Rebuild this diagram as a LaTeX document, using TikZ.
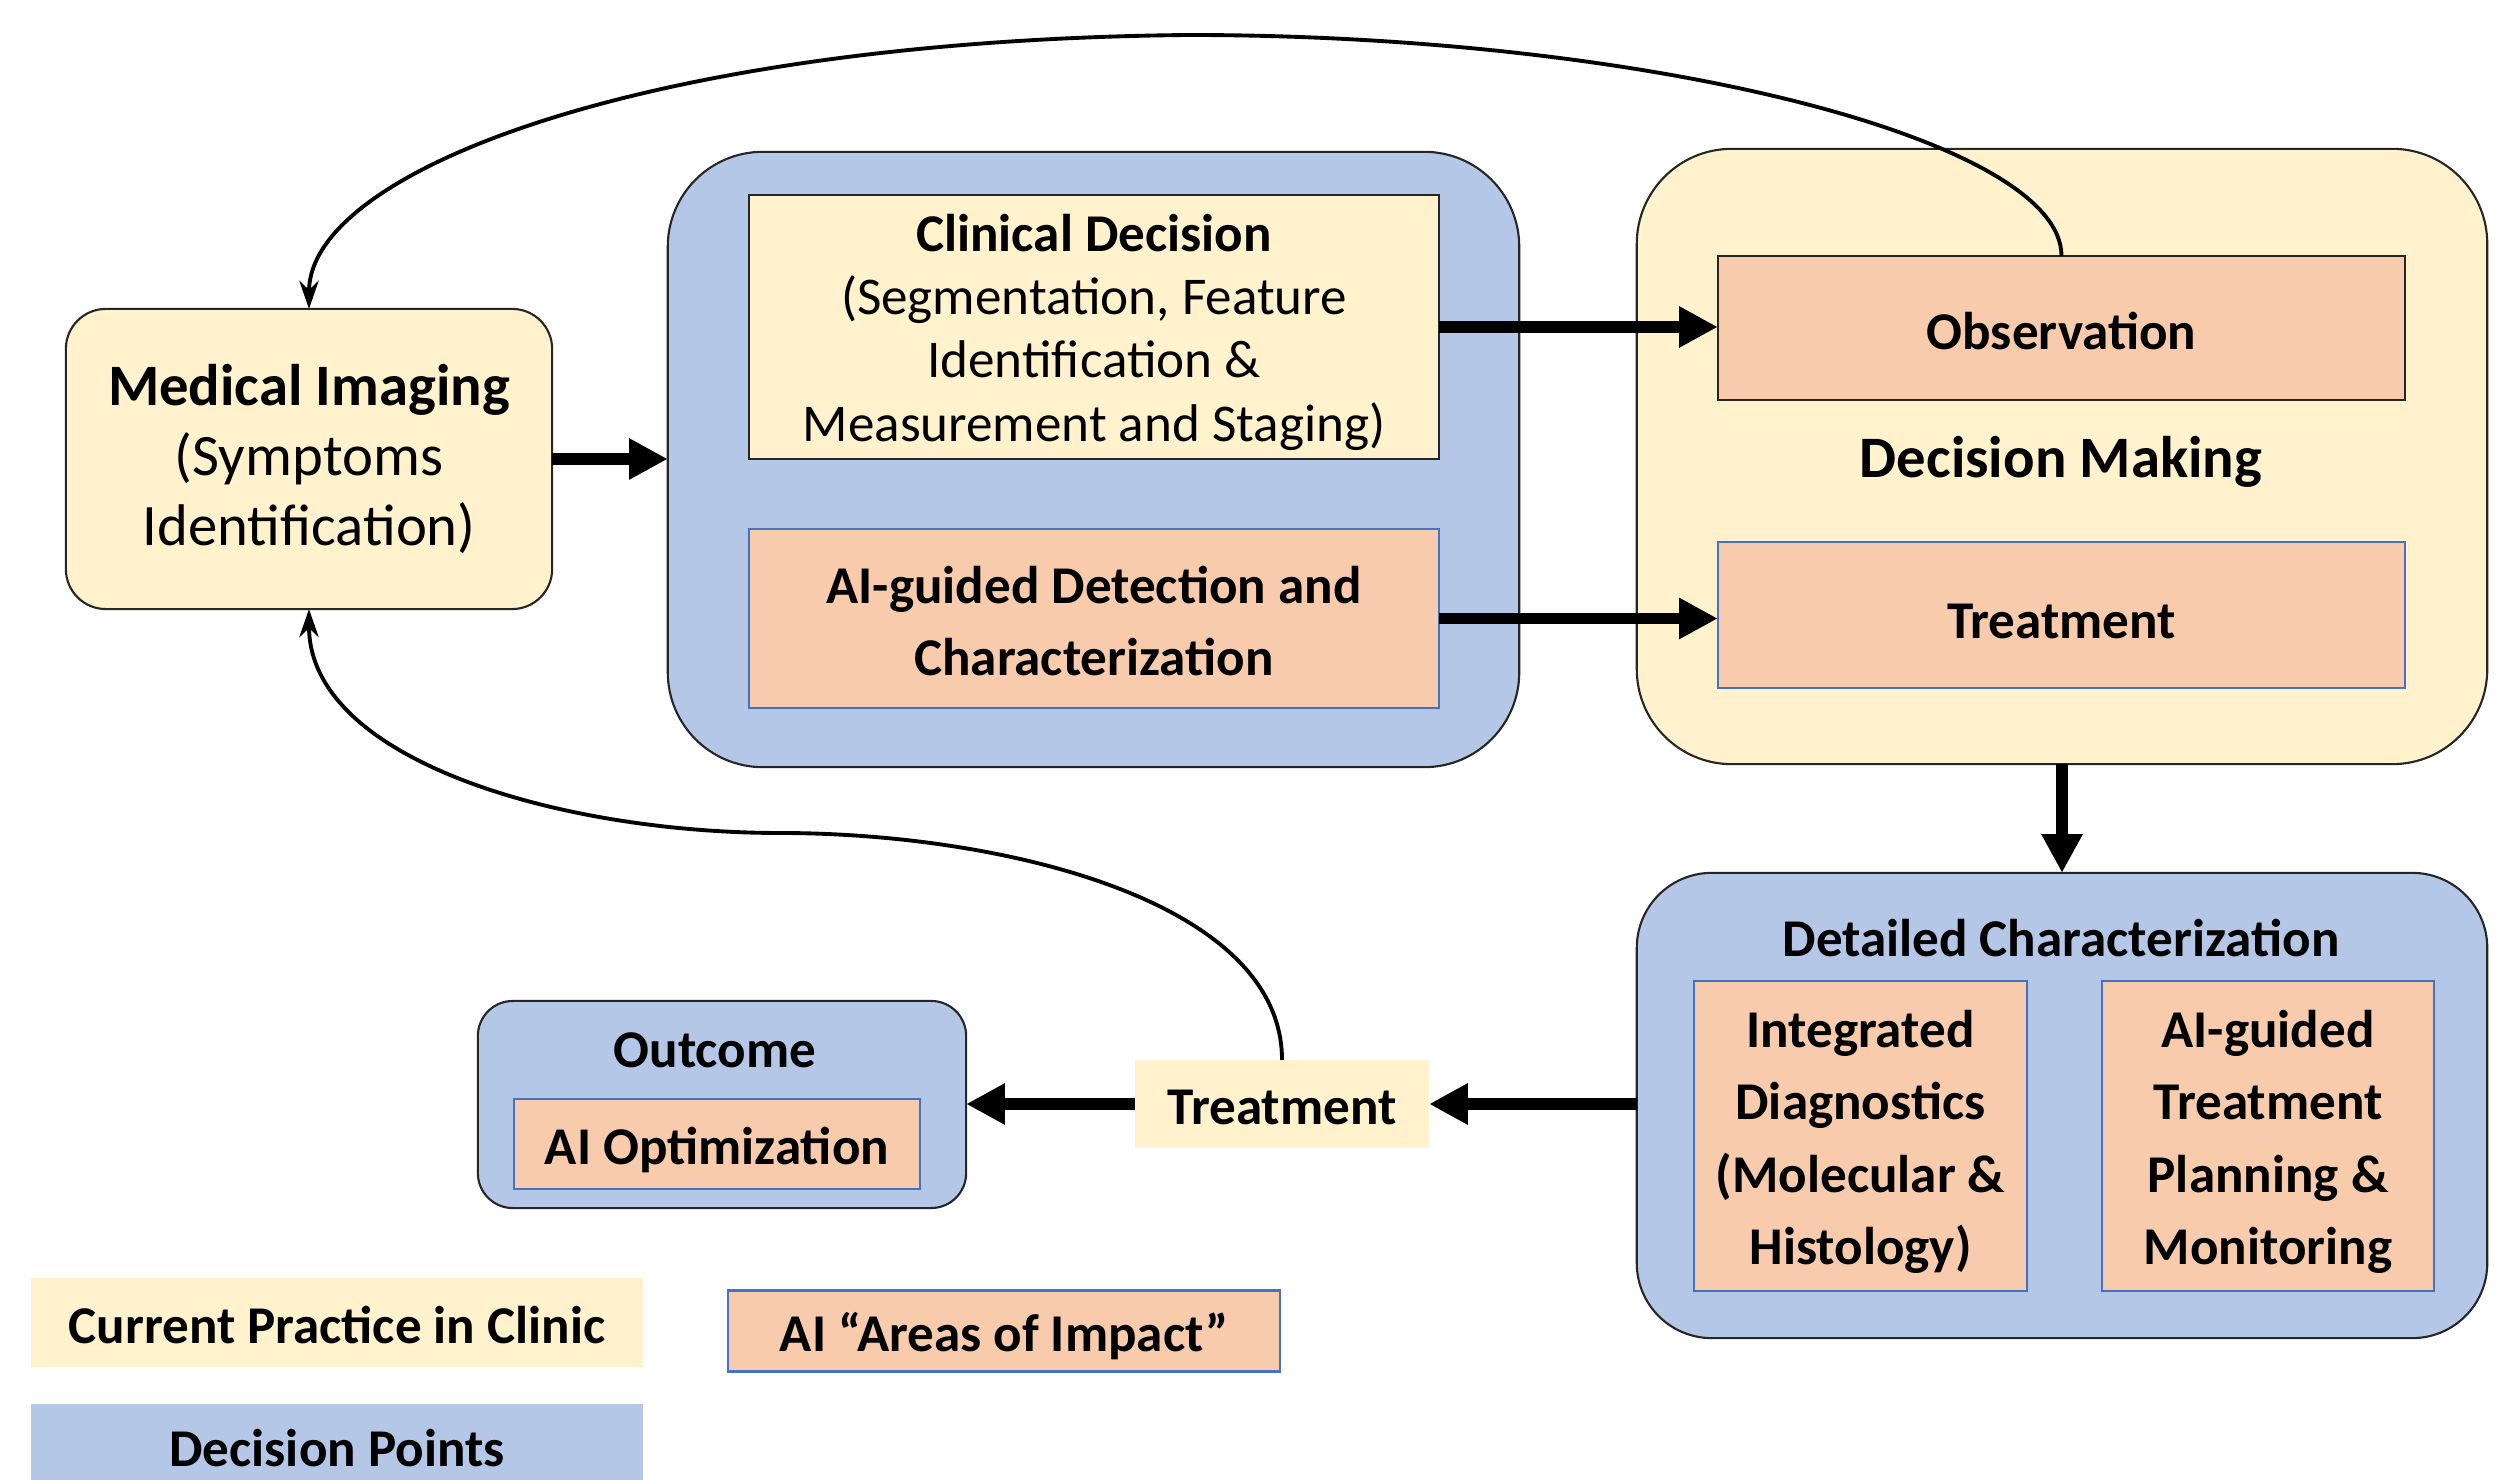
\documentclass[tikz,border=0pt]{standalone}
\usepackage{fontspec}
\setmainfont{Carlito}
\usetikzlibrary{arrows.meta}
\definecolor{cyel}{HTML}{FFF2CC}
\definecolor{cblue}{HTML}{B4C7E7}
\definecolor{corange}{HTML}{F8CBAD}
\definecolor{cborder}{HTML}{4472C4}
\begin{document}
\begin{tikzpicture}[x=0.01cm,y=-0.01cm,
  every node/.style={inner sep=0pt,outer sep=0pt,align=center},
  txt/.style={font=\fontsize{15.1}{18}\selectfont},
  btxt/.style={font=\fontsize{15.1}{18}\selectfont\bfseries},
  ybox/.style={fill=cyel,draw=black!85,line width=0.6pt},
  bbox/.style={fill=cblue,draw=black!85,line width=0.6pt},
  obox/.style={fill=corange,draw=cborder,line width=0.7pt},
  thick arrow/.style={line width=3.4pt,-{Triangle[length=11pt,width=11pt]}},
  thin arrow/.style={line width=1.1pt,-{Stealth[length=8pt,width=5.5pt]}}]
\useasboundingbox (0,0) rectangle (2504,1480);
% containers and boxes
\node[ybox,rounded corners=0.4cm,minimum width=4.86cm,minimum height=3cm,
  font=\fontsize{16.7}{19.8}\selectfont] (med) at (309,459)
  {\textbf{Medical Imaging}\\(Symptoms\\Identification)};
\node[bbox,rounded corners=0.95cm,minimum width=8.51cm,minimum height=6.15cm] (cdbig) at (1093.5,459.5) {};
\node[ybox,minimum width=6.9cm,minimum height=2.64cm] (clin) at (1094,327) {};
\node[txt] (clinT) at (1094,332)
  {\textbf{Clinical Decision}\\(Segmentation, Feature\\Identification \&\\Measurement and Staging)};
\node[obox,minimum width=6.9cm,minimum height=1.79cm] (aidet) at (1094,618.5) {};
\node[font=\fontsize{15.1}{20.4}\selectfont\bfseries] (aidetT) at (1094,621)
  {AI-guided Detection and\\Characterization};
\node[ybox,rounded corners=0.95cm,minimum width=8.5cm,minimum height=6.15cm] (dmbig) at (2062,456.5) {};
\node[fill=corange,draw=black!85,line width=0.6pt,minimum width=6.87cm,minimum height=1.44cm] (obs) at (2061.5,328) {};
\node[btxt] (obsT) at (2061.5,331) {Observation};
\node[font=\fontsize{16.7}{19}\selectfont\bfseries] (dmtext) at (2061,462) {Decision Making};
\node[obox,minimum width=6.87cm,minimum height=1.46cm] (treat) at (2061.5,615) {};
\node[btxt] (treatT) at (2061.5,621) {Treatment};
\node[bbox,rounded corners=0.75cm,minimum width=8.5cm,minimum height=4.65cm] (detbig) at (2062,1105.5) {};
\node[btxt] (dettext) at (2061,938) {Detailed Characterization};
\node[obox,minimum width=3.33cm,minimum height=3.1cm] (integ) at (1860.5,1136) {};
\node[font=\fontsize{15.1}{20.6}\selectfont\bfseries] (integT) at (1860.5,1142)
  {Integrated\\Diagnostics\\(Molecular \&\\Histology)};
\node[obox,minimum width=3.32cm,minimum height=3.1cm] (aitreat) at (2268,1136) {};
\node[font=\fontsize{15.1}{20.6}\selectfont\bfseries] (aitreatT) at (2268,1142)
  {AI-guided\\Treatment\\Planning \&\\Monitoring};
\node[bbox,rounded corners=0.35cm,minimum width=4.88cm,minimum height=2.07cm] (outbig) at (722,1104.5) {};
\node[btxt] (outtext) at (715,1050) {Outcome};
\node[obox,minimum width=4.06cm,minimum height=0.9cm] (aiopt) at (717,1144) {};
\node[btxt] (aioptT) at (717,1150) {AI Optimization};
\node[fill=cyel,minimum width=2.94cm,minimum height=0.88cm] (treatsm) at (1282,1104) {};
\node[btxt] (treatsmT) at (1282,1107) {Treatment};
% legend
\node[fill=cyel,minimum width=6.12cm,minimum height=0.89cm] (leg1) at (337,1322.5) {};
\node[btxt] (leg1T) at (337,1325) {Current Practice in Clinic};
\node[obox,minimum width=5.52cm,minimum height=0.81cm] (leg2) at (1004,1331) {};
\node[btxt] (leg2T) at (1004,1336) {AI “Areas of Impact”};
\node[fill=cblue,minimum width=6.12cm,minimum height=0.77cm] (leg3) at (337,1443) {};
\node[btxt] (leg3T) at (337,1448) {Decision Points};
% thick arrows
\draw[thick arrow] (med.east) -- (med.east -| cdbig.west);
\draw[thick arrow] (clin.east) -- (clin.east -| obs.west);
\draw[thick arrow] (aidet.east) -- (aidet.east -| treat.west);
\draw[thick arrow] (dmbig.south) -- (detbig.north);
\draw[thick arrow] (detbig.west |- treatsm.east) -- (treatsm.east);
\draw[thick arrow] (treatsm.west) -- (treatsm.west -| outbig.east);
% curved feedback arrows
\coordinate (topmid) at (1189,35);
\coordinate (botmid) at (780,833);
\draw[thin arrow] (obs.north) .. controls (2061.5,140) and (1650,35) .. (topmid)
  .. controls (650,40) and (309,170) .. (med.north);
\draw[thin arrow] (treatsm.north) .. controls (1282,900) and (1000,833) .. (botmid)
  .. controls (560,833) and (309,760) .. (med.south);
\end{tikzpicture}
\end{document}
